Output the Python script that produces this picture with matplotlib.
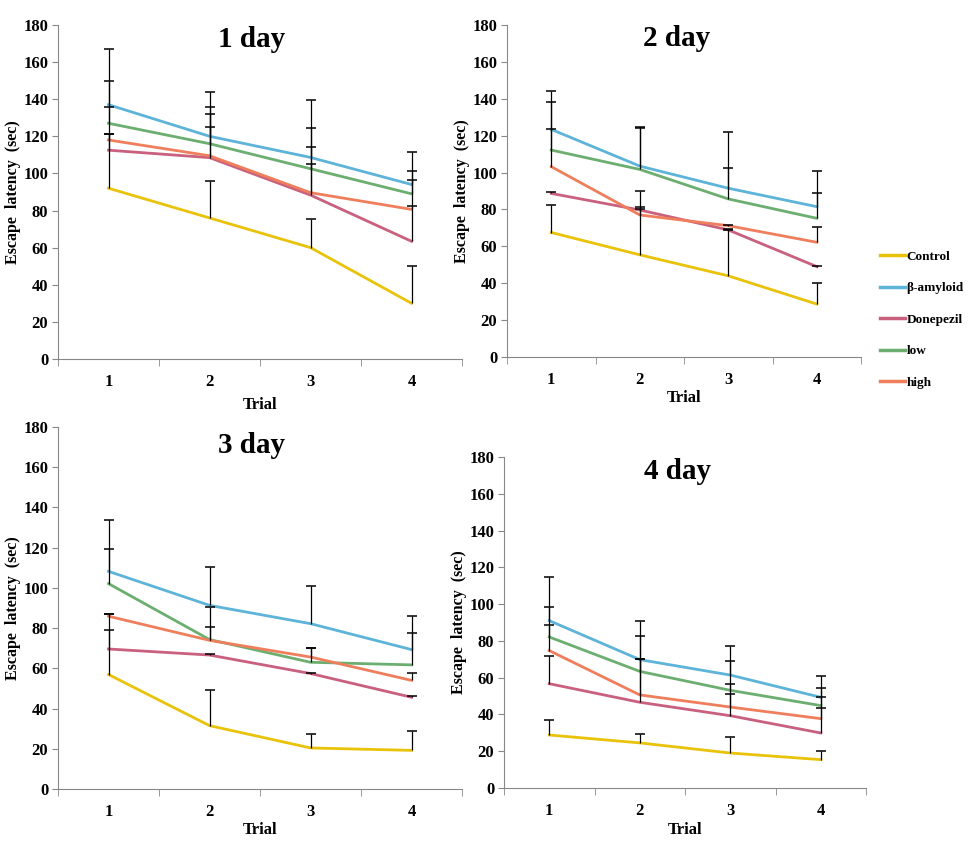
import numpy as np
import matplotlib.pyplot as plt
from matplotlib.lines import Line2D

plt.rcParams['font.family'] = ['Liberation Serif', 'DejaVu Serif']
plt.rcParams['font.weight'] = 'bold'

trials = [1, 2, 3, 4]
days = ["1 day", "2 day", "3 day", "4 day"]
groups = ["Control", "β-amyloid", "Donepezil", "low", "high"]
colors = ["#E9C20A", "#5DB4D8", "#C8607E", "#6CAE70", "#EF7E5D"]

# escape latency (sec): one row per day, one column per trial
control = [[92, 76, 60, 30], [67.5, 55.4, 44, 28.7], [56.9, 31.5, 20.4, 19.2], [28.8, 24.5, 19, 15.4]]
amyloid = [[137, 120, 108.6, 94], [123.4, 103.5, 91.5, 81.5], [108.2, 91.3, 82.2, 69.3], [91, 69.8, 61.4, 49.3]]
donepezil = [[112.5, 108.5, 88.3, 63.4], [88.7, 79.7, 68.9, 49], [69.6, 66.6, 57.4, 45.6], [56.7, 46.6, 39.3, 29.9]]
low = [[127, 116, 102.5, 89], [112.2, 101.7, 85.7, 75.2], [102.1, 74.3, 63, 61.7], [82.1, 63.4, 53.1, 44.8]]
high = [[118, 109.5, 89.6, 80.6], [103.2, 77, 71.2, 62.2], [85.9, 73.9, 65.6, 54], [74.7, 50.6, 44, 37.7]]

# upper error bars (sec)
control_err = [[29, 20, 15.5, 20], [14.9, 24.6, 24.9, 11.3], [22, 17.9, 7.1, 9.5], [8.4, 4.9, 8.9, 4.5]]
amyloid_err = [[30, 23.6, 31, 17.3], [20.6, 21.3, 30.3, 19.5], [25.4, 19.1, 18.9, 16.9], [23.6, 20.8, 16, 11.8]]
donepezil_err = [[8.5, 16.5, 17, 18.8], [0.8, 1.5, 0.5, 0.4], [17.4, 0.5, 0.5, 0.5], [15.3, 23.7, 12, 13.6]]
low_err = [[23, 20, 22, 12.5], [25.8, 22.2, 16.9, 13.5], [17.4, 16.2, 7, 15.9], [16.3, 19.4, 16, 9.4]]
high_err = [[18, 22.5, 24.7, 16], [20.4, 13.2, 0.5, 8.5], [1.1, 6.7, 4.4, 3.7], [13.8, 19.7, 12.6, 12]]

means = [control, amyloid, donepezil, low, high]
errs = [control_err, amyloid_err, donepezil_err, low_err, high_err]

# axes boxes in figure fractions (left, bottom, width, height)
boxes = [
    (0.0598, 0.5767, 0.4165, 0.3939),
    (0.5227, 0.5790, 0.3650, 0.3915),
    (0.0598, 0.0696, 0.4165, 0.4269),
    (0.5196, 0.0708, 0.3732, 0.3903),
]
title_y = [0.955, 0.96, 0.95, 0.955]
trial_pad = [5, 1, 1, 2]

fig = plt.figure(figsize=(9.7, 8.48), dpi=100)

for d in range(4):
    ax = fig.add_axes(boxes[d])
    for g in range(5):
        m = np.array(means[g][d])
        e = np.array(errs[g][d])
        ax.plot(trials, m, color=colors[g], lw=2, zorder=2)
        ax.vlines(trials, m, m + e, color='black', lw=0.9, zorder=3)
        ax.plot(trials, m + e, ls='none', marker='_', ms=7, mew=1.1,
                color='black', zorder=3)

    ax.set_xlim(0.5, 4.5)
    ax.set_ylim(0, 180)
    ax.set_yticks(range(0, 181, 20))
    ax.set_xticks(trials)
    ax.set_xticks([0.5, 1.5, 2.5, 3.5, 4.5], minor=True)
    ax.tick_params(axis='x', which='major', length=0, pad=11, labelsize=12)
    ax.tick_params(axis='x', which='minor', length=5, color='#888888')
    ax.tick_params(axis='y', length=4, color='#888888', labelsize=12, pad=3)
    for s in ['top', 'right']:
        ax.spines[s].set_visible(False)
    for s in ['left', 'bottom']:
        ax.spines[s].set_color('#888888')
    ax.set_xlabel("Trial", fontsize=12, fontweight='bold', labelpad=trial_pad[d])
    ax.set_ylabel("Escape  latency  (sec)", fontsize=11.5, fontweight='bold', labelpad=2)
    ax.text(0.48, title_y[d], days[d], transform=ax.transAxes, ha='center', va='center',
            fontsize=21, fontweight='bold')

handles = [Line2D([], [], color=c, lw=2.5) for c in colors]
fig.legend(handles, groups, loc='center left', bbox_to_anchor=(0.895, 0.623),
           frameon=False, handlelength=1.9, handletextpad=0.1, labelspacing=1.45,
           prop={'family': 'Liberation Serif', 'weight': 'bold', 'size': 9.5})

fig.savefig("out.png", dpi=100)
